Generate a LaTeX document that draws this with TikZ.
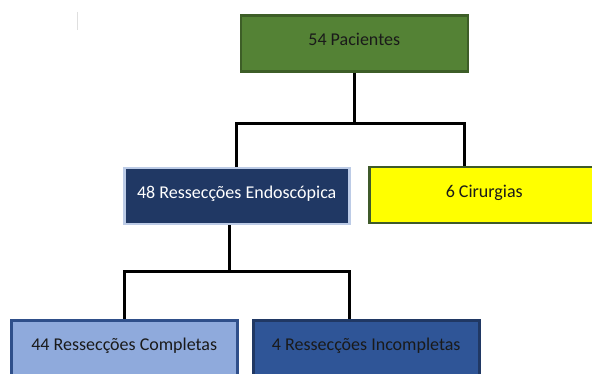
\documentclass[tikz,border=0pt]{standalone}
\usepackage{fontspec}
\setmainfont{Carlito}
\usetikzlibrary{calc}
\definecolor{gfill}{HTML}{548235}
\definecolor{gline}{HTML}{3D5E27}
\definecolor{dbfill}{HTML}{203864}
\definecolor{dbline}{HTML}{BCCBE6}
\definecolor{yline}{HTML}{3F5A2A}
\definecolor{yfill}{HTML}{FFFF00}
\definecolor{lbfill}{HTML}{8FAADC}
\definecolor{lbline}{HTML}{2F4F8A}
\definecolor{mbfill}{HTML}{2F5597}
\definecolor{mbline}{HTML}{203864}
\definecolor{txt}{HTML}{1A1A1A}
\tikzset{
  box/.style={draw, line width=2.5pt, minimum height=56pt, inner sep=0pt, anchor=north west, text height=13pt, text depth=9pt, font=\fontsize{18}{20}\selectfont, text=txt},
  conn/.style={line width=3pt, black},
}
\begin{document}
\begin{tikzpicture}[x=1pt,y=-1pt]
\useasboundingbox (0,0) rectangle (592,374);
\clip (0,0) rectangle (592,374);
\fill[white] (0,0) rectangle (592,374);
\draw[gray!25, line width=1pt] (77,12) -- (77,30);
\node[box, fill=gfill, draw=gline, minimum width=227pt] (top) at (239.5,14.5) {54 Pacientes};
\node[box, fill=dbfill, draw=dbline, minimum width=225pt, text=white] (endo) at (123,167) {48 Ressecções Endoscópica};
\node[box, fill=yfill, draw=yline, minimum width=230pt] (cir) at (368,166) {6 Cirurgias};
\node[box, fill=lbfill, draw=lbline, minimum width=226pt] (comp) at (10,319) {44 Ressecções Completas};
\node[box, fill=mbfill, draw=mbline, minimum width=226pt] (inc) at (252,319) {4 Ressecções Incompletas};
\draw[conn] (top.south) -- ++(0,51) coordinate (j1);
\draw[conn] (j1) -| ([xshift=-0.5pt]endo.north);
\draw[conn] (j1) -| ([xshift=96pt]cir.north west);
\draw[conn] ([xshift=-7pt]endo.south) -- ++(0,46) coordinate (j2);
\draw[conn] (j2) -| (comp.north);
\draw[conn] (j2) -| ([xshift=97pt]inc.north west);
\end{tikzpicture}
\end{document}
